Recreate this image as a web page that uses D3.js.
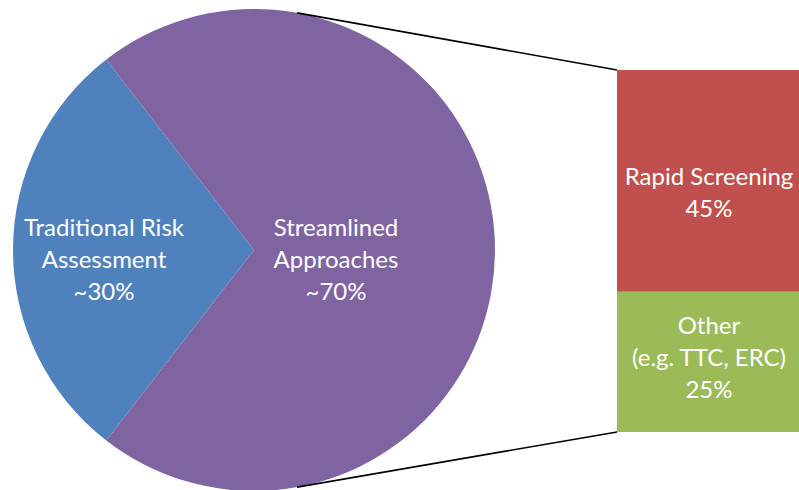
<!DOCTYPE html>
<html>
<head>
<meta charset="utf-8">
<script src="https://cdn.jsdelivr.net/npm/d3@7"></script>
<style>
  body { margin: 0; background: #fff; }
  text { font-family: Lato, "Open Sans", sans-serif; fill: #fff; }
</style>
</head>
<body>
<div id="chart"></div>
<script>
// pie data (shares), labels as printed
var pieNames = ["Traditional Risk Assessment", "Streamlined Approaches"];
var pieValues = [29, 71];
var pieLabels = [["Traditional Risk", "Assessment", "~30%"], ["Streamlined", "Approaches", "~70%"]];
var pieColors = ["#4F81BD", "#8064A2"];

// bar data (split of the streamlined slice)
var barNames = ["Rapid Screening", "Other"];
var barValues = [43.5, 27.5];
var barLabels = [["Rapid Screening", "45%"], ["Other", "(e.g. TTC, ERC)", "25%"]];
var barColors = ["#C0504D", "#9BBB59"];

var width = 799, height = 490;
var cx = 254, cy = 250, r = 241;
var barX = 617, barW = 182, barTop = 70, barBottom = 432;
var lineH = 32;
var fontSize = 24;

var svg = d3.select("#chart").append("svg")
  .attr("width", width)
  .attr("height", height);

// blue slice sits centred on the left side
var frac = pieValues[0] / d3.sum(pieValues);
var start = -Math.PI / 2 - frac * Math.PI;
var pie = d3.pie().sort(null).startAngle(start).endAngle(start + 2 * Math.PI);
var arcs = pie(pieValues);
var arc = d3.arc().innerRadius(0).outerRadius(r);

var g = svg.append("g").attr("transform", `translate(${cx},${cy})`);
g.selectAll("path")
  .data(arcs)
  .enter()
  .append("path")
  .attr("d", arc)
  .attr("fill", (d, i) => pieColors[i]);

// label distance from centre, per slice
var labelR = [150, 82];
g.selectAll("text.pie")
  .data(arcs)
  .enter()
  .append("text")
  .attr("class", "pie")
  .attr("text-anchor", "middle")
  .attr("font-size", fontSize)
  .each(function (d, i) {
    var a = (d.startAngle + d.endAngle) / 2;
    var x = Math.sin(a) * labelR[i];
    var y = -Math.cos(a) * labelR[i];
    var lines = pieLabels[i];
    d3.select(this).selectAll("tspan")
      .data(lines)
      .enter()
      .append("tspan")
      .attr("x", x)
      .attr("y", (l, k) => y + 18 + (k - (lines.length - 1) / 2) * lineH)
      .text(l => l);
  });

// bar of pie
var y = d3.scaleLinear().domain([0, d3.sum(barValues)]).range([barTop, barBottom]);
var stacked = [];
var acc = 0;
barValues.forEach(function (v, i) {
  stacked.push({ y0: acc, y1: acc + v, i: i });
  acc += v;
});
svg.selectAll("rect")
  .data(stacked)
  .enter()
  .append("rect")
  .attr("x", barX)
  .attr("width", barW)
  .attr("y", d => y(d.y0))
  .attr("height", d => y(d.y1) - y(d.y0))
  .attr("fill", d => barColors[d.i]);

// baseline shift of the middle of each label block
var barLabelDy = [20.5, 4];
svg.selectAll("text.bar")
  .data(stacked)
  .enter()
  .append("text")
  .attr("class", "bar")
  .attr("text-anchor", "middle")
  .attr("font-size", fontSize)
  .each(function (d) {
    var lines = barLabels[d.i];
    var mid = (y(d.y0) + y(d.y1)) / 2 + barLabelDy[d.i];
    d3.select(this).selectAll("tspan")
      .data(lines)
      .enter()
      .append("tspan")
      .attr("x", barX + 92)
      .attr("y", (l, k) => mid + (k - (lines.length - 1) / 2) * lineH)
      .text(l => l);
  });

// connector lines from the pie edge to the bar corners
var connA = 10.3 * Math.PI / 180;
var conns = [
  { a: connA, x2: barX, y2: y(0) },
  { a: Math.PI - connA, x2: barX, y2: y(d3.sum(barValues)) }
];
svg.selectAll("line")
  .data(conns)
  .enter()
  .append("line")
  .attr("x1", d => cx + Math.sin(d.a) * r)
  .attr("y1", d => cy - Math.cos(d.a) * r)
  .attr("x2", d => d.x2)
  .attr("y2", d => d.y2)
  .attr("stroke", "#000")
  .attr("stroke-width", 1.6);
</script>
</body>
</html>
